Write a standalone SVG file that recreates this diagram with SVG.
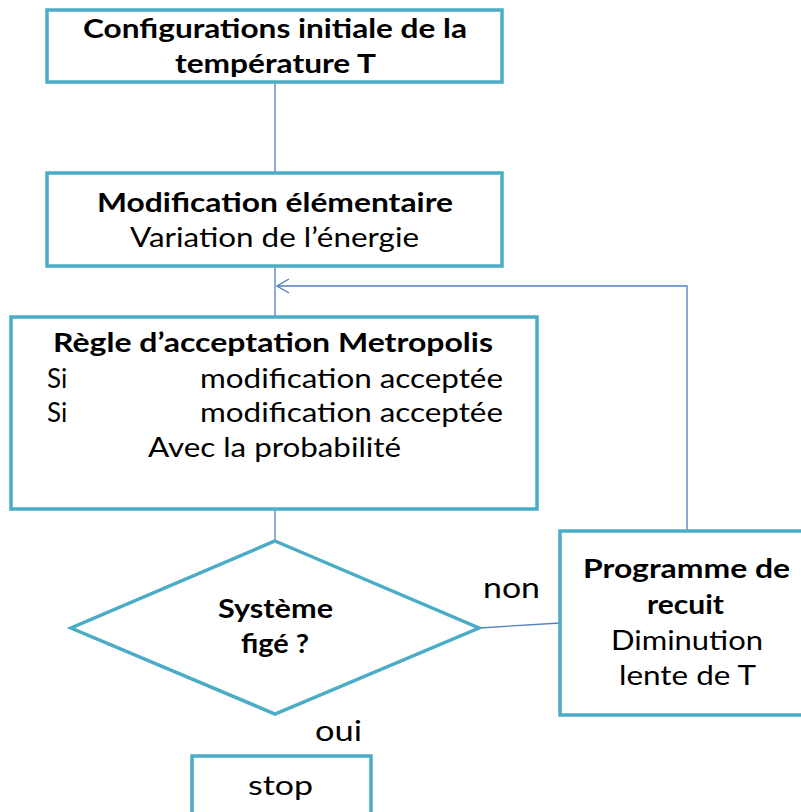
<svg xmlns="http://www.w3.org/2000/svg" width="801" height="812" viewBox="0 0 801 812">
  <defs>
    <style>
      .box { fill: #ffffff; stroke: #4bacc6; stroke-width: 3.5; }
      .link { fill: none; stroke: #4f81bd; stroke-width: 1.3; }
      text { font-family: Lato, "Open Sans", "Liberation Sans", sans-serif; fill: #000000; }
      .b { font-weight: bold; font-size: 26px; }
      .r { font-size: 26px; }
      .lbl { font-size: 29px; }
    </style>
    <marker id="open-arrow" viewBox="0 0 14 16" refX="13" refY="8" markerWidth="14" markerHeight="16" markerUnits="userSpaceOnUse" orient="auto">
      <path d="M1,1 L13,8 L1,15" fill="none" stroke="#4f81bd" stroke-width="1.3"/>
    </marker>
  </defs>

  <rect width="801" height="812" fill="#ffffff"/>

  <!-- connectors -->
  <g id="connectors">
    <line class="link" x1="275" y1="82" x2="275" y2="173"/>
    <line class="link" x1="275" y1="266" x2="275" y2="317"/>
    <line class="link" x1="275" y1="509" x2="275" y2="541"/>
    <line class="link" x1="479" y1="628" x2="560" y2="623"/>
    <polyline class="link" points="687,531 687,286 277,286" marker-end="url(#open-arrow)"/>
  </g>

  <!-- initial configuration -->
  <g id="init">
    <rect class="box" x="47" y="10" width="455" height="72"/>
    <text class="b" x="83" y="38" textLength="384" lengthAdjust="spacingAndGlyphs">Configurations initiale de la</text>
    <text class="b" x="175" y="73" textLength="201" lengthAdjust="spacingAndGlyphs">température T</text>
  </g>

  <!-- elementary modification -->
  <g id="modif">
    <rect class="box" x="47" y="173" width="455" height="93"/>
    <text class="b" x="97" y="212" textLength="356" lengthAdjust="spacingAndGlyphs">Modification élémentaire</text>
    <text class="r" x="130" y="247" textLength="289" lengthAdjust="spacingAndGlyphs">Variation de l’énergie</text>
  </g>

  <!-- Metropolis acceptance rule -->
  <g id="metropolis">
    <rect class="box" x="11" y="317" width="526" height="192"/>
    <text class="b" x="53" y="352" textLength="440" lengthAdjust="spacingAndGlyphs">Règle d’acceptation Metropolis</text>
    <text class="r" x="47" y="388">Si</text>
    <text class="r" x="200" y="388" textLength="303" lengthAdjust="spacingAndGlyphs">modification acceptée</text>
    <text class="r" x="47" y="422">Si</text>
    <text class="r" x="200" y="422" textLength="303" lengthAdjust="spacingAndGlyphs">modification acceptée</text>
    <text class="r" x="148" y="457" textLength="253" lengthAdjust="spacingAndGlyphs">Avec la probabilité</text>
  </g>

  <!-- frozen system decision -->
  <g id="decision">
    <polygon class="box" points="275,541 479,628 275,714 71,628"/>
    <text class="b" x="218" y="618" font-size="24" textLength="115" lengthAdjust="spacingAndGlyphs">Système</text>
    <text class="b" x="241" y="653" font-size="24" textLength="68" lengthAdjust="spacingAndGlyphs">figé ?</text>
  </g>

  <!-- annealing schedule -->
  <g id="schedule">
    <rect class="box" x="560" y="531" width="245" height="184"/>
    <text class="b" x="583" y="578" textLength="207" lengthAdjust="spacingAndGlyphs">Programme de</text>
    <text class="b" x="647" y="614" textLength="77" lengthAdjust="spacingAndGlyphs">recuit</text>
    <text class="r" x="611" y="650" textLength="152" lengthAdjust="spacingAndGlyphs">Diminution</text>
    <text class="r" x="619" y="685" textLength="137" lengthAdjust="spacingAndGlyphs">lente de T</text>
  </g>

  <!-- branch labels -->
  <g id="labels">
    <text class="lbl" x="483" y="598" textLength="57" lengthAdjust="spacingAndGlyphs">non</text>
    <text class="lbl" x="315" y="741" textLength="47" lengthAdjust="spacingAndGlyphs">oui</text>
  </g>

  <!-- stop -->
  <g id="stop">
    <rect class="box" x="192" y="756" width="179" height="70"/>
    <text class="r" x="248" y="795" font-size="28" textLength="65" lengthAdjust="spacingAndGlyphs">stop</text>
  </g>
</svg>
